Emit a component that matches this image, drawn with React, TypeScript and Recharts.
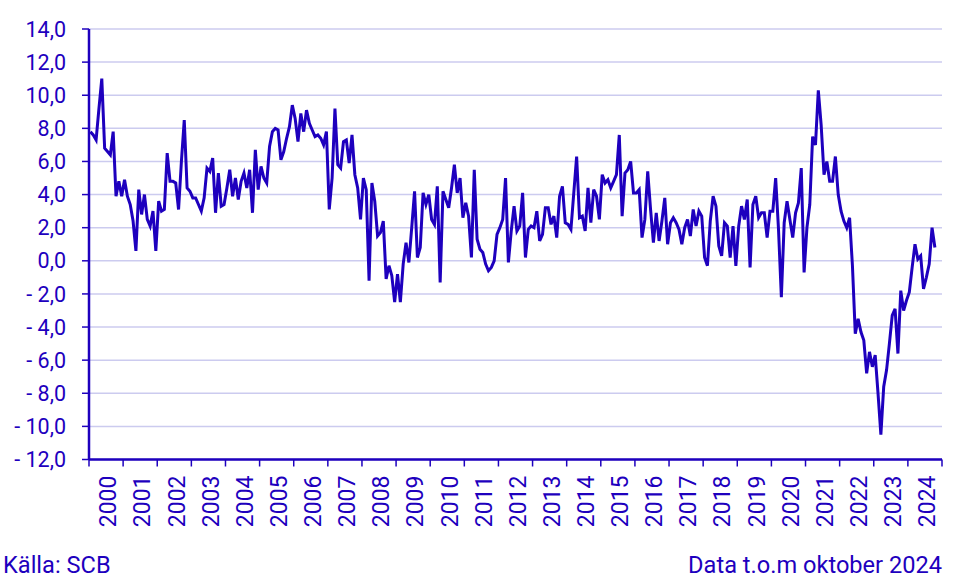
import React from 'react';
import { LineChart, Line, XAxis, YAxis, CartesianGrid } from 'recharts';

// monthly values, Jan 2000 - Oct 2024
const values2000to2004 = [
  7.8, 7.6, 7.3, 9.2, 11.0, 6.8, 6.6, 6.4, 7.8, 3.9, 4.8, 3.9,
  4.9, 3.9, 3.4, 2.4, 0.6, 4.3, 2.8, 4.0, 2.5, 2.1, 3.0, 0.6,
  3.6, 3.0, 3.1, 6.5, 4.8, 4.8, 4.7, 3.1, 6.0, 8.5, 4.4, 4.2,
  3.8, 3.8, 3.4, 3.0, 3.8, 5.6, 5.4, 6.2, 2.9, 5.3, 3.3, 3.4,
  4.4, 5.5, 3.9, 5.0, 3.7, 4.8, 5.3, 4.4, 5.5, 2.9, 6.7, 4.3,
];
const values2005to2009 = [
  5.7, 5.0, 4.7, 6.9, 7.8, 8.0, 7.9, 6.1, 6.6, 7.4, 8.1, 9.4,
  8.6, 7.2, 8.9, 7.8, 9.1, 8.3, 7.9, 7.5, 7.6, 7.4, 7.0, 7.8,
  3.1, 5.0, 9.2, 5.8, 5.6, 7.2, 7.3, 5.9, 7.6, 5.2, 4.4, 2.5,
  5.0, 4.3, -1.2, 4.7, 3.6, 1.5, 1.7, 2.4, -1.1, -0.3, -0.9, -2.5,
  -0.8, -2.5, -0.2, 1.1, -0.1, 2.0, 4.2, 0.2, 0.8, 4.1, 3.4, 4.0,
];
const values2010to2014 = [
  2.5, 2.2, 4.5, -1.3, 4.2, 3.7, 3.2, 4.4, 5.8, 4.1, 5.0, 2.6,
  3.5, 2.7, 0.2, 5.5, 1.3, 0.7, 0.5, -0.2, -0.6, -0.4, 0.0, 1.6,
  2.0, 2.5, 5.0, -0.1, 1.8, 3.3, 1.8, 2.1, 4.1, 0.2, 1.9, 2.1,
  2.0, 3.0, 1.2, 1.6, 3.2, 3.2, 2.2, 2.7, 1.4, 3.9, 4.5, 2.3,
  2.2, 1.9, 4.1, 6.3, 2.6, 2.7, 1.8, 4.4, 2.3, 4.3, 3.9, 2.5,
];
const values2015to2019 = [
  5.2, 4.7, 4.9, 4.4, 4.8, 5.2, 7.6, 2.7, 5.3, 5.5, 6.0, 4.1,
  4.1, 4.3, 1.4, 2.5, 5.4, 3.1, 1.1, 2.9, 1.2, 2.4, 3.8, 1.0,
  2.3, 2.6, 2.3, 1.9, 1.0, 2.0, 2.5, 1.5, 3.1, 2.1, 3.0, 2.7,
  0.2, -0.3, 2.4, 3.9, 3.3, 0.9, 0.3, 2.3, 2.1, 0.2, 2.1, -0.3,
  2.1, 3.3, 2.5, 3.7, -0.4, 3.4, 3.9, 2.6, 2.9, 2.9, 1.4, 3.0,
];
const values2020to2024 = [
  3.0, 5.0, 1.9, -2.2, 2.3, 3.6, 2.5, 1.4, 2.9, 3.5, 5.6, -0.7,
  2.0, 3.4, 7.5, 7.0, 10.3, 8.2, 5.2, 6.0, 4.8, 4.8, 6.3, 4.0,
  3.0, 2.4, 2.0, 2.6, -0.3, -4.4, -3.5, -4.3, -4.8, -6.8, -5.5, -6.4,
  -5.7, -8.0, -10.5, -7.6, -6.6, -5.0, -3.3, -2.9, -5.6, -1.8, -3.0, -2.4,
  -1.9, -0.4, 1.0, 0.1, 0.3, -1.7, -1.0, -0.2, 2.0, 0.8,
];

const years = [
  '2000', '2001', '2002', '2003', '2004', '2005', '2006', '2007', '2008',
  '2009', '2010', '2011', '2012', '2013', '2014', '2015', '2016', '2017',
  '2018', '2019', '2020', '2021', '2022', '2023', '2024',
];
const yTicks = [-12, -10, -8, -6, -4, -2, 0, 2, 4, 6, 8, 10, 12, 14];

const allValues = [
  ...values2000to2004,
  ...values2005to2009,
  ...values2010to2014,
  ...values2015to2019,
  ...values2020to2024,
];
// each month sits in the middle of its slot
const data = allValues.map((v, i) => ({ month: i + 0.5, value: v }));
const yearTicks = [...years.map((_, i) => i * 12), years.length * 12];

const BLUE = '#1e00be';
const FONT = 'Roboto, sans-serif';
const PLOT_LEFT = 89;
const PLOT_RIGHT = 942;
const HALF_YEAR_PX = ((PLOT_RIGHT - PLOT_LEFT) / (years.length * 12)) * 6;

const formatY = (v: number) => {
  const s = Math.abs(v).toFixed(1).replace('.', ',');
  return v < 0 ? '- ' + s : s;
};

const YearTick = (props: any) => {
  const { x, y, payload } = props;
  const idx = Math.round(payload.value / 12);
  if (idx >= years.length) return null;
  const cx = x + HALF_YEAR_PX + 2;
  return (
    <text
      x={cx}
      y={y}
      dy="0.36em"
      textAnchor="end"
      transform={`rotate(-90, ${cx}, ${y})`}
      fill={BLUE}
      fontSize={23}
      fontFamily={FONT}
    >
      {years[idx]}
    </text>
  );
};

const footerStyle: React.CSSProperties = {
  position: 'absolute',
  top: 553.5,
  fontFamily: FONT,
  fontSize: 23.6,
  lineHeight: 1,
  color: BLUE,
  whiteSpace: 'nowrap',
};

export default function App() {
  return (
    <div style={{ position: 'absolute', left: 0, top: 0, width: 964, height: 579, background: '#fff' }}>
      <LineChart
        width={964}
        height={579}
        data={data}
        margin={{ top: 29, right: 964 - PLOT_RIGHT, bottom: 0, left: 0 }}
      >
        <CartesianGrid vertical={false} stroke="#cccbef" strokeWidth={1.5} />
        <XAxis
          dataKey="month"
          type="number"
          domain={[0, years.length * 12]}
          ticks={yearTicks}
          interval={0}
          height={119.5}
          tickSize={7}
          tickMargin={9}
          axisLine={{ stroke: BLUE, strokeWidth: 2.5 }}
          tickLine={{ stroke: BLUE, strokeWidth: 1.5 }}
          tick={<YearTick />}
        />
        <YAxis
          type="number"
          domain={[-12, 14]}
          ticks={yTicks}
          interval={0}
          width={PLOT_LEFT}
          tickSize={7}
          tickMargin={16}
          tickFormatter={formatY}
          axisLine={{ stroke: BLUE, strokeWidth: 2.5 }}
          tickLine={{ stroke: BLUE, strokeWidth: 1.5 }}
          tick={{ fill: BLUE, fontSize: 21.5, fontFamily: FONT }}
        />
        <Line
          type="linear"
          dataKey="value"
          stroke={BLUE}
          strokeWidth={3}
          dot={false}
          isAnimationActive={false}
        />
      </LineChart>
      <div style={{ ...footerStyle, left: 3 }}>Källa: SCB</div>
      <div style={{ ...footerStyle, right: 964 - PLOT_RIGHT }}>Data t.o.m oktober 2024</div>
    </div>
  );
}
